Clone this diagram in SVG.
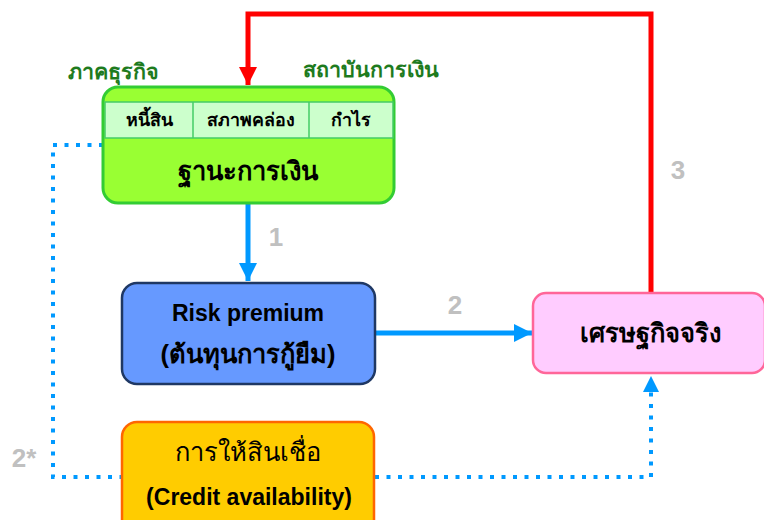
<svg xmlns="http://www.w3.org/2000/svg" width="764" height="520" viewBox="0 0 764 520">
<defs>
<style>
text{font-family:"Liberation Sans","Noto Sans",sans-serif;font-weight:bold;text-anchor:middle;dominant-baseline:central}
.lbl{fill:#1E7B1E;font-size:21.5px}
.num{fill:#C0C0C0;font-size:26px}
.hd{fill:#000;font-size:17.8px}
.big{fill:#000;font-size:25.5px}
.en{fill:#000;font-size:23px}
.blue{stroke:#0099FF;stroke-width:5;fill:none}
.dot{stroke:#0099FF;stroke-width:4;fill:none;stroke-dasharray:4 7.5}
</style>
<marker id="ab" viewBox="0 0 10 10" refX="10" refY="5" markerUnits="userSpaceOnUse" markerWidth="18" markerHeight="18" orient="auto"><path d="M0,0 L10,5 L0,10 Z" fill="#0099FF"/></marker>
<marker id="ar" viewBox="0 0 10 10" refX="10" refY="5" markerUnits="userSpaceOnUse" markerWidth="18" markerHeight="18" orient="auto"><path d="M0,0 L10,5 L0,10 Z" fill="#FF0000"/></marker>
</defs>
<g id="connectors">
<path d="M651,293 V14 H248 V85" stroke="#FF0000" stroke-width="5" fill="none" marker-end="url(#ar)"/>
<path d="M248,204 V281" class="blue" marker-end="url(#ab)"/>
<path d="M376,333 H532" class="blue" marker-end="url(#ab)"/>
<path d="M103,145 H53 V477 H122" class="dot"/>
<path d="M375,477 H651 V392" class="dot"/>
<path d="M643,392 L651,376 L659,392 Z" fill="#0099FF"/>
</g>
<g id="labels">
<text class="lbl" x="113" y="72">ภาคธุรกิจ</text>
<text class="lbl" x="371" y="70">สถาบันการเงิน</text>
<text class="num" x="276" y="237">1</text>
<text class="num" x="455" y="305">2</text>
<text class="num" x="678" y="170">3</text>
<text class="num" x="24" y="458">2*</text>
</g>
<g id="financial-position">
<rect x="103" y="87" width="291" height="116" rx="15" fill="#99FF33" stroke="#33CC33" stroke-width="3"/>
<rect x="105" y="102" width="288" height="36" fill="#CCFFCC" stroke="#44CC66" stroke-width="1.5"/>
<line x1="193" y1="102" x2="193" y2="138" stroke="#44CC66" stroke-width="1.5"/>
<line x1="309" y1="102" x2="309" y2="138" stroke="#44CC66" stroke-width="1.5"/>
<text class="hd" x="149" y="120">หนี้สิน</text>
<text class="hd" x="251" y="120">สภาพคล่อง</text>
<text class="hd" x="351" y="120">กำไร</text>
<text class="big" x="248" y="171">ฐานะการเงิน</text>
</g>
<g id="risk-premium">
<rect x="122" y="283" width="253" height="101" rx="15" fill="#6699FF" stroke="#1F3864" stroke-width="2.5"/>
<text class="en" x="248" y="313">Risk premium</text>
<text class="big" x="248" y="354">(ต้นทุนการกู้ยืม)</text>
</g>
<g id="real-economy">
<rect x="533" y="293" width="232" height="80" rx="13" fill="#FFCCFF" stroke="#FF6699" stroke-width="2.5"/>
<text class="big" x="650" y="333">เศรษฐกิจจริง</text>
</g>
<g id="credit">
<rect x="122" y="422" width="252" height="115" rx="15" fill="#FFCC00" stroke="#FF6600" stroke-width="2.5"/>
<text class="big" x="248" y="452" style="font-weight:normal">การให้สินเชื่อ</text>
<text class="en" x="249" y="497">(Credit availability)</text>
</g>
</svg>
